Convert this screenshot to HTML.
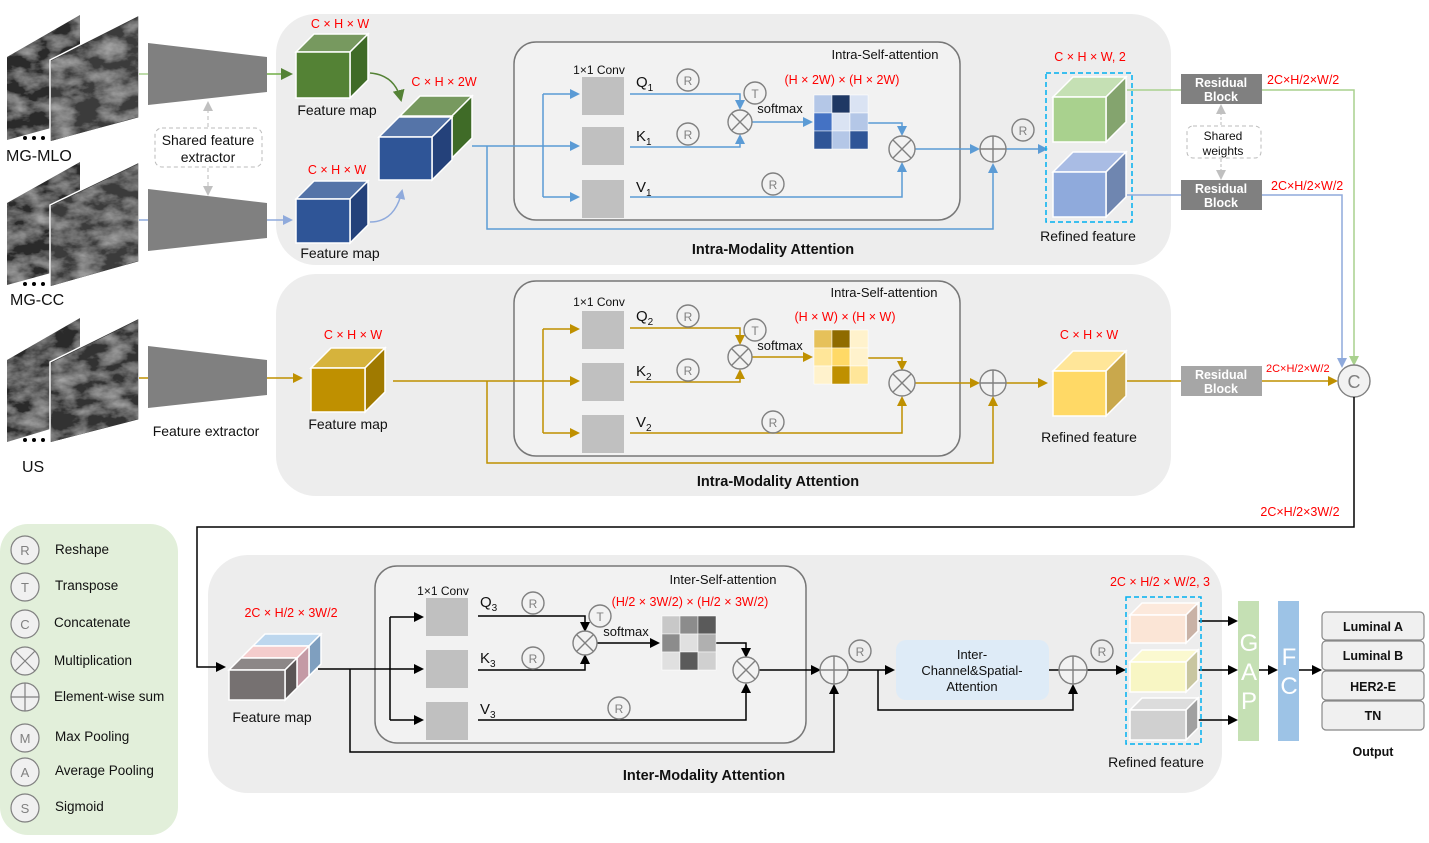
<!DOCTYPE html>
<html><head><meta charset="utf-8"><style>
html,body{margin:0;padding:0;background:#fff}
svg{display:block;font-family:"Liberation Sans",Arial,sans-serif}
.r{fill:#ff0000;font-size:12.5px}
.t{fill:#111;font-size:14px}
.b{font-weight:bold}
.op{fill:none;stroke:#808080;stroke-width:1.4}
.opt{fill:#808080;font-size:12px;text-anchor:middle}
</style></head><body>
<svg width="1429" height="843" viewBox="0 0 1429 843" xmlns="http://www.w3.org/2000/svg">
<defs>
<marker id="ab" markerWidth="10" markerHeight="10" refX="8" refY="5" orient="auto" markerUnits="userSpaceOnUse"><path d="M0,0 L10,5 L0,10z" fill="#5b9bd5"/></marker>
<marker id="ag" markerWidth="10" markerHeight="10" refX="8" refY="5" orient="auto" markerUnits="userSpaceOnUse"><path d="M0,0 L10,5 L0,10z" fill="#bf9000"/></marker>
<marker id="ak" markerWidth="10" markerHeight="10" refX="8" refY="5" orient="auto" markerUnits="userSpaceOnUse"><path d="M0,0 L10,5 L0,10z" fill="#000"/></marker>
<marker id="agr" markerWidth="12" markerHeight="12" refX="10" refY="6" orient="auto" markerUnits="userSpaceOnUse"><path d="M0,0 L12,6 L0,12z" fill="#548235"/></marker>
<marker id="alg" markerWidth="10" markerHeight="10" refX="8" refY="5" orient="auto" markerUnits="userSpaceOnUse"><path d="M0,0 L10,5 L0,10z" fill="#a9d18e"/></marker>
<marker id="alb" markerWidth="10" markerHeight="10" refX="8" refY="5" orient="auto" markerUnits="userSpaceOnUse"><path d="M0,0 L10,5 L0,10z" fill="#8faadc"/></marker>
<marker id="agy" markerWidth="10" markerHeight="10" refX="8" refY="5" orient="auto" markerUnits="userSpaceOnUse"><path d="M0,0 L10,5 L0,10z" fill="#c0c0c0"/></marker>
<filter id="tex" x="0" y="0" width="100%" height="100%">
<feTurbulence type="fractalNoise" baseFrequency="0.04 0.07" numOctaves="4" seed="4"/>
<feColorMatrix type="matrix" values="0 0 0 0 0.6 0 0 0 0 0.6 0 0 0 0 0.6 1.1 0 0 0 -0.4"/>
<feComposite in2="SourceGraphic" operator="in" result="n"/>
<feBlend in="n" in2="SourceGraphic" mode="screen"/>
</filter>
</defs>

<!-- panels -->
<rect x="276" y="14" width="895" height="251" rx="40" fill="#ededed"/>
<rect x="276" y="274" width="895" height="222" rx="40" fill="#ededed"/>
<rect x="208" y="555" width="1014" height="238" rx="40" fill="#ededed"/>
<rect x="0" y="524" width="178" height="311" rx="28" fill="#e2efda"/>

<!-- mammogram images -->
<g filter="url(#tex)">
<polygon points="7,57 80,15 80,120 7,140" fill="#2a2a2a"/>
<polygon points="7,203 80,162 80,265 7,285" fill="#2a2a2a"/>
<polygon points="7,360 80,318 80,420 7,442" fill="#2a2a2a"/>
</g>
<g stroke="#fff" stroke-width="1.5">
<polygon points="50,60 139,15 139,118 50,142" fill="#3a3a3a"/>
<polygon points="50,205 139,162 139,262 50,287" fill="#3a3a3a"/>
<polygon points="50,362 139,318 139,420 50,443" fill="#333"/>
</g>
<g filter="url(#tex)">
<polygon points="51,61 138,17 138,117 51,141" fill="#3a3a3a"/>
<polygon points="51,206 138,164 138,261 51,286" fill="#3a3a3a"/>
<polygon points="51,363 138,320 138,419 51,442" fill="#333"/>
</g>
<g fill="#000"><circle cx="25" cy="138" r="2"/><circle cx="34" cy="138" r="2"/><circle cx="43" cy="138" r="2"/>
<circle cx="25" cy="284" r="2"/><circle cx="34" cy="284" r="2"/><circle cx="43" cy="284" r="2"/>
<circle cx="25" cy="440" r="2"/><circle cx="34" cy="440" r="2"/><circle cx="43" cy="440" r="2"/></g>
<text x="6" y="161" style="font-size:16px" fill="#111">MG-MLO</text>
<text x="10" y="305" style="font-size:16px" fill="#111">MG-CC</text>
<text x="22" y="472" style="font-size:16px" fill="#111">US</text>

<!-- extractors -->
<polygon points="148,43 267,57 267,92 148,105" fill="#808080"/>
<polygon points="148,189 267,203 267,238 148,251" fill="#808080"/>
<polygon points="148,346 267,360 267,395 148,408" fill="#808080"/>
<line x1="139" y1="74" x2="148" y2="74" stroke="#a9d18e" stroke-width="1.5"/>
<line x1="139" y1="220" x2="148" y2="220" stroke="#8faadc" stroke-width="1.5"/>
<line x1="139" y1="378" x2="148" y2="378" stroke="#bf9000" stroke-width="1.5"/>
<rect x="155" y="128" width="107" height="39" rx="7" fill="#fff" stroke="#bbb" stroke-dasharray="4,3"/>
<text x="208" y="145" class="t" text-anchor="middle">Shared feature</text>
<text x="208" y="162" class="t" text-anchor="middle">extractor</text>
<line x1="208" y1="127" x2="208" y2="103" stroke="#bbb" stroke-dasharray="4,3" marker-end="url(#agy)"/>
<line x1="208" y1="168" x2="208" y2="194" stroke="#bbb" stroke-dasharray="4,3" marker-end="url(#agy)"/>
<text x="206" y="436" class="t" text-anchor="middle">Feature extractor</text>

<!-- top row -->
<line x1="267" y1="74" x2="291" y2="74" stroke="#70ad47" stroke-width="1.5" marker-end="url(#agr)"/>
<line x1="267" y1="220" x2="291" y2="220" stroke="#8faadc" stroke-width="1.5" marker-end="url(#alb)"/>
<text x="340" y="28" class="r" text-anchor="middle">C × H × W</text>
<g stroke="#fff" stroke-width="1.5">
<polygon points="296,52 314,34 368,34 350,52" fill="#77995f"/>
<polygon points="350,52 368,34 368,80 350,98" fill="#3f6b27"/>
<rect x="296" y="52" width="54" height="46" fill="#548235"/>
</g>
<text x="337" y="115" class="t" text-anchor="middle">Feature map</text>
<path d="M370,73 Q395,75 401,100" fill="none" stroke="#548235" stroke-width="1.5" marker-end="url(#agr)"/>
<text x="444" y="86" class="r" text-anchor="middle">C × H × 2W</text>
<g stroke="#fff" stroke-width="1.5">
<polygon points="400,116 420,96 472,96 452,116" fill="#77995f"/>
<polygon points="452,116 472,96 472,138 452,158" fill="#3f6b27"/>
<polygon points="379,137 399,117 452,117 432,137" fill="#5574a8"/>
<polygon points="432,137 452,117 452,160 432,180" fill="#24417a"/>
<rect x="379" y="137" width="53" height="43" fill="#2f5597"/>
</g>
<text x="337" y="174" class="r" text-anchor="middle">C × H × W</text>
<g stroke="#fff" stroke-width="1.5">
<polygon points="296,199 314,181 368,181 350,199" fill="#5574a8"/>
<polygon points="350,199 368,181 368,225 350,243" fill="#24417a"/>
<rect x="296" y="199" width="54" height="44" fill="#2f5597"/>
</g>
<text x="340" y="258" class="t" text-anchor="middle">Feature map</text>
<path d="M370,222 Q395,222 402,191" fill="none" stroke="#8faadc" stroke-width="1.5" marker-end="url(#alb)"/>

<rect x="514" y="42" width="446" height="178" rx="22" fill="#f2f2f2" stroke="#777" stroke-width="1.5"/>
<text x="885" y="59" class="t" text-anchor="middle" style="font-size:13px">Intra-Self-attention</text>
<text x="599" y="74" class="t" text-anchor="middle" style="font-size:12px">1×1 Conv</text>
<g fill="#c0c0c0"><rect x="582" y="77" width="42" height="38"/><rect x="582" y="127" width="42" height="38"/><rect x="582" y="180" width="42" height="38"/></g>
<g fill="none" stroke="#5b9bd5" stroke-width="1.5">
<path d="M472,146 H578" marker-end="url(#ab)"/>
<path d="M543,94 V197"/><path d="M543,94 H578" marker-end="url(#ab)"/><path d="M543,197 H578" marker-end="url(#ab)"/>
<path d="M487,146 V229 H993 V165" marker-end="url(#ab)"/>
<path d="M630,94 H740 V108" marker-end="url(#ab)"/>
<path d="M630,147 H740 V136" marker-end="url(#ab)"/>
<path d="M752,122 H811" marker-end="url(#ab)"/>
<path d="M868,123 H902 V134" marker-end="url(#ab)"/>
<path d="M630,197 H902 V164" marker-end="url(#ab)"/>
<path d="M915,149 H978" marker-end="url(#ab)"/>
<path d="M1006,149 H1046" marker-end="url(#ab)"/>
</g>
<text x="636" y="87" class="t" style="font-size:15px">Q<tspan dy="4" style="font-size:10px">1</tspan></text>
<text x="636" y="141" class="t" style="font-size:15px">K<tspan dy="4" style="font-size:10px">1</tspan></text>
<text x="636" y="192" class="t" style="font-size:15px">V<tspan dy="4" style="font-size:10px">1</tspan></text>
<text x="842" y="84" class="r" text-anchor="middle">(H × 2W) × (H × 2W)</text>
<text x="780" y="113" class="t" text-anchor="middle" style="font-size:13px">softmax</text>
<g stroke="#fff" stroke-width="0.5">
<rect x="814" y="95" width="18" height="18" fill="#b4c7e7"/><rect x="832" y="95" width="18" height="18" fill="#1f3864"/><rect x="850" y="95" width="18" height="18" fill="#dae3f3"/>
<rect x="814" y="113" width="18" height="18" fill="#4472c4"/><rect x="832" y="113" width="18" height="18" fill="#dae3f3"/><rect x="850" y="113" width="18" height="18" fill="#b4c7e7"/>
<rect x="814" y="131" width="18" height="18" fill="#2f5597"/><rect x="832" y="131" width="18" height="18" fill="#b4c7e7"/><rect x="850" y="131" width="18" height="18" fill="#2f5597"/>
</g>

<!-- refined top -->
<text x="1090" y="61" class="r" text-anchor="middle">C × H × W, 2</text>
<rect x="1046" y="73" width="86" height="149" fill="none" stroke="#00b0f0" stroke-width="1.5" stroke-dasharray="5,3"/>
<g stroke="#fff" stroke-width="1.5">
<polygon points="1053,97 1073,77 1126,77 1106,97" fill="#c5e0b4"/>
<polygon points="1106,97 1126,77 1126,122 1106,142" fill="#84a46e"/>
<rect x="1053" y="97" width="53" height="45" fill="#a9d18e"/>
<polygon points="1053,172 1073,152 1126,152 1106,172" fill="#a9bce4"/>
<polygon points="1106,172 1126,152 1126,197 1106,217" fill="#6f86b0"/>
<rect x="1053" y="172" width="53" height="45" fill="#8faadc"/>
</g>
<text x="1088" y="241" class="t" text-anchor="middle">Refined feature</text>
<text x="773" y="254" class="t b" text-anchor="middle" style="font-size:14.5px">Intra-Modality Attention</text>

<!-- residual blocks -->
<line x1="1127" y1="90" x2="1181" y2="90" stroke="#a9d18e" stroke-width="1.5"/>
<line x1="1127" y1="195" x2="1181" y2="195" stroke="#8faadc" stroke-width="1.5"/>
<rect x="1181" y="74" width="81" height="30" fill="#808080"/>
<rect x="1181" y="180" width="81" height="30" fill="#808080"/>
<rect x="1181" y="366" width="81" height="30" fill="#a6a6a6"/>
<g fill="#fff" font-weight="bold" font-size="12.5" text-anchor="middle">
<text x="1221" y="87">Residual</text><text x="1221" y="101">Block</text>
<text x="1221" y="193">Residual</text><text x="1221" y="207">Block</text>
<text x="1221" y="379">Residual</text><text x="1221" y="393">Block</text>
</g>
<rect x="1187" y="126" width="74" height="32" rx="6" fill="#fff" stroke="#bbb" stroke-dasharray="4,3"/>
<text x="1223" y="140" class="t" text-anchor="middle" style="font-size:12px">Shared</text>
<text x="1223" y="155" class="t" text-anchor="middle" style="font-size:12px">weights</text>
<line x1="1221" y1="125" x2="1221" y2="106" stroke="#bbb" stroke-dasharray="3,2" marker-end="url(#agy)"/>
<line x1="1221" y1="159" x2="1221" y2="178" stroke="#bbb" stroke-dasharray="3,2" marker-end="url(#agy)"/>
<path d="M1262,90 H1354 V364" fill="none" stroke="#a9d18e" stroke-width="1.5" marker-end="url(#alg)"/>
<path d="M1262,195 H1342 V366" fill="none" stroke="#8faadc" stroke-width="1.5" marker-end="url(#alb)"/>
<text x="1267" y="84" class="r">2C×H/2×W/2</text>
<text x="1271" y="190" class="r">2C×H/2×W/2</text>
<text x="1266" y="372" class="r" style="font-size:11px">2C×H/2×W/2</text>
<path d="M1262,381 H1336" fill="none" stroke="#bf9000" stroke-width="1.5" marker-end="url(#ag)"/>
<circle cx="1354" cy="381" r="16" fill="#f2f2f2" stroke="#808080" stroke-width="1.4"/>
<text x="1354" y="388" text-anchor="middle" fill="#808080" font-size="18">C</text>

<!-- second row -->
<line x1="267" y1="378" x2="301" y2="378" stroke="#bf9000" stroke-width="1.5" marker-end="url(#ag)"/>
<text x="353" y="339" class="r" text-anchor="middle">C × H × W</text>
<g stroke="#fff" stroke-width="1.5">
<polygon points="311,368 331,348 385,348 365,368" fill="#d6b33c"/>
<polygon points="365,368 385,348 385,392 365,412" fill="#a07a00"/>
<rect x="311" y="368" width="54" height="44" fill="#bf9000"/>
</g>
<text x="348" y="429" class="t" text-anchor="middle">Feature map</text>
<rect x="514" y="281" width="446" height="175" rx="22" fill="#f2f2f2" stroke="#777" stroke-width="1.5"/>
<text x="884" y="297" class="t" text-anchor="middle" style="font-size:13px">Intra-Self-attention</text>
<text x="599" y="306" class="t" text-anchor="middle" style="font-size:12px">1×1 Conv</text>
<g fill="#c0c0c0"><rect x="582" y="311" width="42" height="38"/><rect x="582" y="363" width="42" height="38"/><rect x="582" y="415" width="42" height="38"/></g>
<g fill="none" stroke="#bf9000" stroke-width="1.5">
<path d="M393,381 H578" marker-end="url(#ag)"/>
<path d="M543,329 V433"/><path d="M543,329 H578" marker-end="url(#ag)"/><path d="M543,433 H578" marker-end="url(#ag)"/>
<path d="M487,381 V463 H993 V398" marker-end="url(#ag)"/>
<path d="M630,328 H740 V343" marker-end="url(#ag)"/>
<path d="M630,382 H740 V371" marker-end="url(#ag)"/>
<path d="M752,357 H811" marker-end="url(#ag)"/>
<path d="M868,358 H902 V369" marker-end="url(#ag)"/>
<path d="M630,433 H902 V398" marker-end="url(#ag)"/>
<path d="M915,383 H978" marker-end="url(#ag)"/>
<path d="M1006,383 H1046" marker-end="url(#ag)"/>
<path d="M1127,381 H1181"/>
</g>
<text x="636" y="321" class="t" style="font-size:15px">Q<tspan dy="4" style="font-size:10px">2</tspan></text>
<text x="636" y="376" class="t" style="font-size:15px">K<tspan dy="4" style="font-size:10px">2</tspan></text>
<text x="636" y="427" class="t" style="font-size:15px">V<tspan dy="4" style="font-size:10px">2</tspan></text>
<text x="845" y="321" class="r" text-anchor="middle">(H × W) × (H × W)</text>
<text x="780" y="350" class="t" text-anchor="middle" style="font-size:13px">softmax</text>
<g stroke="#fff" stroke-width="0.5">
<rect x="814" y="330" width="18" height="18" fill="#e6c15a"/><rect x="832" y="330" width="18" height="18" fill="#8f6b00"/><rect x="850" y="330" width="18" height="18" fill="#fff2cc"/>
<rect x="814" y="348" width="18" height="18" fill="#ffe699"/><rect x="832" y="348" width="18" height="18" fill="#ffd966"/><rect x="850" y="348" width="18" height="18" fill="#fff2cc"/>
<rect x="814" y="366" width="18" height="18" fill="#fff2cc"/><rect x="832" y="366" width="18" height="18" fill="#bf9000"/><rect x="850" y="366" width="18" height="18" fill="#ffe699"/>
</g>
<text x="1089" y="339" class="r" text-anchor="middle">C × H × W</text>
<g stroke="#fff" stroke-width="1.5">
<polygon points="1053,371 1073,351 1126,351 1106,371" fill="#ffe699"/>
<polygon points="1106,371 1126,351 1126,396 1106,416" fill="#c9a84c"/>
<rect x="1053" y="371" width="53" height="45" fill="#ffd966"/>
</g>
<text x="1089" y="442" class="t" text-anchor="middle">Refined feature</text>
<text x="778" y="486" class="t b" text-anchor="middle" style="font-size:14.5px">Intra-Modality Attention</text>

<!-- C to bottom -->
<path d="M1354,397 V527 H197 V667 H224" fill="none" stroke="#000" stroke-width="1.5" marker-end="url(#ak)"/>
<text x="1300" y="516" class="r" text-anchor="middle">2C×H/2×3W/2</text>

<!-- bottom -->
<text x="291" y="617" class="r" text-anchor="middle">2C × H/2 × 3W/2</text>
<g stroke="#fff" stroke-width="1.5">
<polygon points="253,646 265,634 321,634 309,646" fill="#bdd7ee"/>
<polygon points="309,646 321,634 321,664 309,676" fill="#7f9fbf"/>
<polygon points="241,658 253,646 309,646 297,658" fill="#f4cccc"/>
<polygon points="297,658 309,646 309,676 297,688" fill="#c49aa5"/>
<polygon points="229,670 241,658 297,658 285,670" fill="#8c8787"/>
<polygon points="285,670 297,658 297,688 285,700" fill="#5a5555"/>
<rect x="229" y="670" width="56" height="30" fill="#767171"/>
</g>
<text x="272" y="722" class="t" text-anchor="middle">Feature map</text>
<rect x="375" y="566" width="431" height="177" rx="22" fill="#f2f2f2" stroke="#777" stroke-width="1.5"/>
<text x="723" y="584" class="t" text-anchor="middle" style="font-size:13px">Inter-Self-attention</text>
<text x="443" y="595" class="t" text-anchor="middle" style="font-size:12px">1×1 Conv</text>
<g fill="#c0c0c0"><rect x="426" y="598" width="42" height="38"/><rect x="426" y="650" width="42" height="38"/><rect x="426" y="702" width="42" height="38"/></g>
<g fill="none" stroke="#000" stroke-width="1.5">
<path d="M318,669 H422" marker-end="url(#ak)"/>
<path d="M390,617 V720"/><path d="M390,617 H422" marker-end="url(#ak)"/><path d="M390,720 H422" marker-end="url(#ak)"/>
<path d="M350,669 V752 H834 V686" marker-end="url(#ak)"/>
<path d="M478,616 H585 V630" marker-end="url(#ak)"/>
<path d="M478,670 H585 V656" marker-end="url(#ak)"/>
<path d="M597,643 H658" marker-end="url(#ak)"/>
<path d="M716,643 H746 V656" marker-end="url(#ak)"/>
<path d="M478,720 H746 V685" marker-end="url(#ak)"/>
<path d="M759,670 H819" marker-end="url(#ak)"/>
<path d="M848,670 H893" marker-end="url(#ak)"/>
<path d="M878,670 V710 H1073 V686" marker-end="url(#ak)"/>
<path d="M1049,670 H1059"/>
<path d="M1087,670 H1124" marker-end="url(#ak)"/>
<path d="M1195,621 H1236" marker-end="url(#ak)"/>
<path d="M1195,670 H1236" marker-end="url(#ak)"/>
<path d="M1195,720 H1236" marker-end="url(#ak)"/>
<path d="M1259,670 H1276" marker-end="url(#ak)"/>
<path d="M1299,670 H1320" marker-end="url(#ak)"/>
</g>
<text x="480" y="607" class="t" style="font-size:15px">Q<tspan dy="4" style="font-size:10px">3</tspan></text>
<text x="480" y="663" class="t" style="font-size:15px">K<tspan dy="4" style="font-size:10px">3</tspan></text>
<text x="480" y="714" class="t" style="font-size:15px">V<tspan dy="4" style="font-size:10px">3</tspan></text>
<text x="690" y="606" class="r" text-anchor="middle">(H/2 × 3W/2) × (H/2 × 3W/2)</text>
<text x="626" y="636" class="t" text-anchor="middle" style="font-size:13px">softmax</text>
<g stroke="#fff" stroke-width="0.5">
<rect x="662" y="616" width="18" height="18" fill="#c8c8c8"/><rect x="680" y="616" width="18" height="18" fill="#8c8c8c"/><rect x="698" y="616" width="18" height="18" fill="#5a5a5a"/>
<rect x="662" y="634" width="18" height="18" fill="#8c8c8c"/><rect x="680" y="634" width="18" height="18" fill="#e0e0e0"/><rect x="698" y="634" width="18" height="18" fill="#b0b0b0"/>
<rect x="662" y="652" width="18" height="18" fill="#e0e0e0"/><rect x="680" y="652" width="18" height="18" fill="#5a5a5a"/><rect x="698" y="652" width="18" height="18" fill="#d0d0d0"/>
</g>
<rect x="896" y="640" width="153" height="60" rx="10" fill="#deebf7"/>
<text x="972" y="659" class="t" text-anchor="middle" style="font-size:13px">Inter-</text>
<text x="972" y="675" class="t" text-anchor="middle" style="font-size:13px">Channel&amp;Spatial-</text>
<text x="972" y="691" class="t" text-anchor="middle" style="font-size:13px">Attention</text>
<text x="704" y="780" class="t b" text-anchor="middle" style="font-size:14.5px">Inter-Modality Attention</text>

<text x="1160" y="586" class="r" text-anchor="middle">2C × H/2 × W/2, 3</text>
<rect x="1126" y="597" width="75" height="147" fill="none" stroke="#00b0f0" stroke-width="1.5" stroke-dasharray="5,3"/>
<g stroke="#fff" stroke-width="1.5">
<polygon points="1130,615 1142,603 1198,603 1186,615" fill="#fce9dc"/>
<polygon points="1186,615 1198,603 1198,631 1186,643" fill="#c9b2a6"/>
<rect x="1130" y="615" width="56" height="28" fill="#fbe5d6"/>
<polygon points="1130,662 1142,650 1198,650 1186,662" fill="#fbf9d0"/>
<polygon points="1186,662 1198,650 1198,680 1186,692" fill="#c8c6a0"/>
<rect x="1130" y="662" width="56" height="30" fill="#f8f6c4"/>
<polygon points="1130,710 1142,698 1198,698 1186,710" fill="#dcdcdc"/>
<polygon points="1186,710 1198,698 1198,728 1186,740" fill="#a0a0a0"/>
<rect x="1130" y="710" width="56" height="30" fill="#d0d0d0"/>
</g>
<text x="1156" y="767" class="t" text-anchor="middle">Refined feature</text>
<rect x="1238" y="601" width="21" height="140" fill="#c5e0b4"/>
<rect x="1278" y="601" width="21" height="140" fill="#9dc3e6"/>
<g fill="#fff" font-size="24" text-anchor="middle">
<text x="1249" y="651">G</text><text x="1249" y="680">A</text><text x="1249" y="709">P</text>
<text x="1289" y="665">F</text><text x="1289" y="694">C</text>
</g>
<g fill="#f0f0f0" stroke="#888" stroke-width="1.2">
<rect x="1322" y="612" width="102" height="28" rx="4"/><rect x="1322" y="641" width="102" height="29" rx="4"/>
<rect x="1322" y="671" width="102" height="29" rx="4"/><rect x="1322" y="701" width="102" height="29" rx="4"/>
</g>
<g font-size="12.5" font-weight="bold" fill="#111" text-anchor="middle">
<text x="1373" y="631">Luminal A</text><text x="1373" y="660">Luminal B</text>
<text x="1373" y="691">HER2-E</text><text x="1373" y="720">TN</text>
<text x="1373" y="756">Output</text>
</g>

<!-- operator circles -->
<g class="op">
<circle cx="688" cy="80" r="11"/><circle cx="688" cy="134" r="11"/><circle cx="773" cy="184" r="11"/><circle cx="755" cy="93" r="11"/><circle cx="1023" cy="130" r="11"/>
<circle cx="688" cy="316" r="11"/><circle cx="688" cy="370" r="11"/><circle cx="773" cy="422" r="11"/><circle cx="755" cy="330" r="11"/>
<circle cx="533" cy="603" r="11"/><circle cx="533" cy="658" r="11"/><circle cx="619" cy="708" r="11"/><circle cx="600" cy="616" r="11"/>
<circle cx="860" cy="651" r="11"/><circle cx="1102" cy="651" r="11"/>
</g>
<g class="opt">
<text x="688" y="85">R</text><text x="688" y="139">R</text><text x="773" y="189">R</text><text x="755" y="98">T</text><text x="1023" y="135">R</text>
<text x="688" y="321">R</text><text x="688" y="375">R</text><text x="773" y="427">R</text><text x="755" y="335">T</text>
<text x="533" y="608">R</text><text x="533" y="663">R</text><text x="619" y="713">R</text><text x="600" y="621">T</text>
<text x="860" y="656">R</text><text x="1102" y="656">R</text>
</g>
<!-- multiplications -->
<g fill="#f2f2f2" stroke="#808080" stroke-width="1.4">
<circle cx="740" cy="122" r="12"/><circle cx="902" cy="149" r="13"/>
<circle cx="740" cy="357" r="12"/><circle cx="902" cy="383" r="13"/>
<circle cx="585" cy="643" r="12"/><circle cx="746" cy="670" r="13"/>
<circle cx="993" cy="149" r="13"/><circle cx="993" cy="383" r="13"/>
<circle cx="834" cy="670" r="14"/><circle cx="1073" cy="670" r="14"/>
</g>
<g stroke="#808080" stroke-width="1.4">
<path d="M731.5,113.5 L748.5,130.5 M748.5,113.5 L731.5,130.5"/>
<path d="M893,140 L911,158 M911,140 L893,158"/>
<path d="M731.5,348.5 L748.5,365.5 M748.5,348.5 L731.5,365.5"/>
<path d="M893,374 L911,392 M911,374 L893,392"/>
<path d="M576.5,634.5 L593.5,651.5 M593.5,634.5 L576.5,651.5"/>
<path d="M737,661 L755,679 M755,661 L737,679"/>
<path d="M980,149 H1006 M993,136 V162"/>
<path d="M980,383 H1006 M993,370 V396"/>
<path d="M820,670 H848 M834,656 V684"/>
<path d="M1059,670 H1087 M1073,656 V684"/>
</g>

<!-- legend -->
<g fill="#f0f0f0" stroke="#808080" stroke-width="1.2">
<circle cx="25" cy="550" r="14"/><circle cx="25" cy="587" r="14"/><circle cx="25" cy="624" r="14"/><circle cx="25" cy="661" r="14"/>
<circle cx="25" cy="697" r="14"/><circle cx="25" cy="738" r="14"/><circle cx="25" cy="772" r="14"/><circle cx="25" cy="808" r="14"/>
</g>
<g stroke="#808080" stroke-width="1.2">
<path d="M15,651 L35,671 M35,651 L15,671"/><path d="M11,697 H39 M25,683 V711"/>
</g>
<g fill="#808080" font-size="13" text-anchor="middle">
<text x="25" y="555">R</text><text x="25" y="592">T</text><text x="25" y="629">C</text>
<text x="25" y="743">M</text><text x="25" y="777">A</text><text x="25" y="813">S</text>
</g>
<g class="t" style="font-size:13.5px">
<text x="55" y="554">Reshape</text><text x="55" y="590">Transpose</text><text x="54" y="627">Concatenate</text>
<text x="54" y="665">Multiplication</text><text x="54" y="701">Element-wise sum</text>
<text x="55" y="741">Max Pooling</text><text x="55" y="775">Average Pooling</text><text x="55" y="811">Sigmoid</text>
</g>
</svg>
</body></html>
